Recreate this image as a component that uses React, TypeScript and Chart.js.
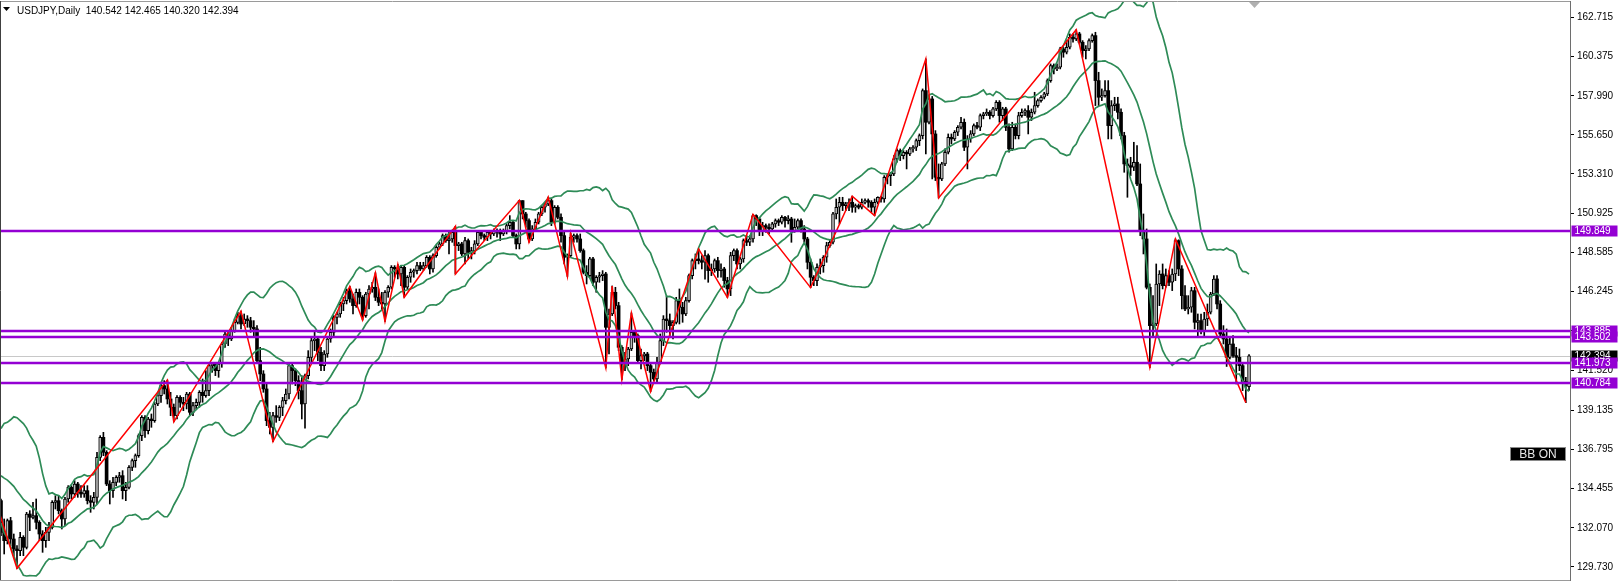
import React, { useEffect, useRef } from 'react';
import { Chart, registerables } from 'chart.js';

Chart.register(...registerables);

// ---- data (USDJPY daily, index 0 = first visible bar) ----
const symbolTitle = 'USDJPY,Daily';
const lastBar = [140.542, 142.465, 140.320, 142.394];

// closes of the 20 bars before the first visible one (needed by the Bollinger band)
const priorCloses = [134.2, 134.2, 134.9, 134.9, 134.7, 136.4, 136.2, 136.2, 136.1, 136.7, 135.9, 135.9, 137.2, 137.3, 136.1, 134.9, 133.2, 134.2, 133.4, 133.7];

const opens = [
  133.7, 131.8, 131.3, 132.5, 131.4, 130.8, 130.7, 131.5, 130.9, 132.9,
  132.7, 132.8, 132.4, 131.7, 131.3, 131.8, 132.1, 133.6, 133.7, 133.1,
  132.6, 133.8, 134.5, 134.1, 134.7, 134.2, 134.1, 134.3, 133.7, 133.6,
  133.9, 136.3, 137.5, 136.6, 134.7, 134.3, 134.8, 135.1, 135.2, 134.3,
  134.5, 135.7, 136.1, 136.4, 137.6, 138.7, 137.9, 138.6, 138.5, 139.5,
  140.0, 140.6, 140.4, 139.8, 139.3, 138.8, 139.9, 139.6, 139.5, 140.1,
  139.0, 139.4, 139.6, 140.2, 140.0, 140.3, 141.8, 141.9, 141.5, 141.9,
  143.1, 143.7, 143.4, 143.9, 144.4, 144.8, 144.3, 144.6, 144.5, 144.1,
  144.0, 142.1, 141.3, 140.4, 138.5, 138.1, 138.8, 138.7, 139.3, 139.7,
  140.1, 141.8, 141.5, 140.9, 140.3, 139.5, 141.2, 142.3, 143.3, 143.4,
  142.6, 141.8, 142.5, 143.4, 143.8, 144.7, 144.9, 145.5, 145.7, 146.3,
  145.8, 145.4, 146.2, 145.9, 144.8, 146.1, 146.4, 146.5, 145.9, 145.6,
  145.5, 146.2, 146.5, 147.7, 147.6, 147.3, 147.7, 146.5, 147.1, 147.4,
  147.5, 147.8, 147.6, 147.8, 148.3, 147.6, 148.4, 148.9, 149.1, 149.6,
  149.3, 149.4, 149.8, 149.0, 149.1, 148.5, 149.3, 148.6, 148.7, 149.1,
  149.8, 149.6, 149.5, 149.8, 149.7, 149.9, 149.8, 149.7, 149.9, 150.2,
  150.4, 149.6, 149.1, 151.7, 150.9, 150.5, 149.4, 150.0, 150.4, 150.9,
  151.3, 151.5, 151.7, 150.4, 151.3, 150.7, 149.6, 148.3, 148.4, 149.5,
  149.6, 149.4, 148.7, 147.4, 147.2, 148.2, 146.8, 147.1, 147.2, 147.3,
  144.1, 144.9, 146.2, 145.4, 142.9, 141.9, 142.2, 142.8, 143.8, 143.6,
  142.1, 142.4, 142.5, 141.8, 141.4, 141.0, 142.0, 143.3, 144.6, 144.5,
  144.2, 144.4, 145.7, 145.3, 144.9, 145.7, 147.2, 148.1, 148.2, 148.1,
  148.0, 148.4, 147.5, 147.6, 148.1, 147.5, 147.6, 146.9, 146.4, 148.4,
  148.7, 147.9, 148.2, 149.3, 149.2, 149.4, 150.8, 150.6, 149.9, 150.2,
  150.1, 150.0, 150.3, 150.5, 150.4, 150.7, 150.5, 150.6, 149.9, 150.1,
  150.5, 150.0, 149.4, 148.0, 147.1, 146.9, 147.7, 147.8, 148.3, 149.0,
  149.2, 150.9, 151.3, 151.6, 151.4, 151.5, 151.6, 151.3, 151.4, 151.3,
  151.6, 151.7, 151.6, 151.3, 151.6, 151.9, 151.8, 153.1, 153.2, 153.3,
  154.2, 154.7, 154.4, 154.6, 154.5, 154.8, 154.9, 155.3, 155.6, 158.3,
  156.4, 157.8, 155.7, 153.1, 153.0, 153.9, 154.6, 155.5, 155.4, 155.8,
  156.1, 156.4, 154.9, 155.4, 155.7, 156.2, 156.1, 156.8, 156.9, 157.0,
  156.8, 157.2, 157.6, 156.8, 157.2, 156.1, 154.8, 156.1, 155.6, 156.8,
  157.0, 157.1, 156.7, 157.0, 157.4, 157.7, 157.9, 158.1, 158.9, 159.8,
  159.6, 159.7, 160.8, 160.6, 160.9, 161.5, 161.4, 161.7, 161.2, 160.7,
  160.8, 161.3, 161.6, 158.9, 157.9, 158.0, 158.3, 156.2, 157.4, 157.5,
  157.0, 155.6, 153.9, 153.8, 153.7, 154.0, 152.7, 149.9, 149.4, 146.5,
  144.2, 144.3, 146.7, 147.3, 146.6, 147.2, 146.8, 147.3, 149.3, 147.6,
  146.0, 145.2, 145.3, 146.3, 144.4, 144.5, 143.9, 144.6, 145.0, 146.1,
  147.0, 145.5, 143.7, 143.4, 142.3, 143.1, 142.4, 142.3, 141.8, 140.85,
  140.542,
];

const highs = [
  133.8, 132.6, 132.6, 132.7, 131.7, 131.0, 131.8, 131.6, 133.0, 133.1,
  133.6, 133.8, 132.5, 131.9, 132.1, 132.4, 133.7, 134.0, 134.0, 133.2,
  133.9, 134.6, 134.6, 134.9, 134.8, 134.6, 134.6, 134.6, 134.0, 134.2,
  136.6, 137.6, 137.8, 136.7, 134.9, 135.1, 135.2, 135.4, 135.5, 134.8,
  135.8, 136.2, 136.5, 137.7, 138.8, 138.8, 138.7, 138.9, 139.6, 140.2,
  140.7, 140.9, 140.93, 140.2, 139.5, 140.0, 140.0, 139.9, 140.2, 140.2,
  139.6, 139.8, 140.3, 141.0, 141.5, 141.9, 142.0, 142.0, 142.0, 143.2,
  143.9, 143.8, 144.1, 144.6, 145.0, 145.07, 144.9, 144.8, 144.7, 144.5,
  144.2, 142.9, 141.5, 140.8, 139.0, 139.0, 139.4, 139.4, 139.9, 140.4,
  142.0, 141.9, 141.6, 141.2, 141.2, 141.3, 142.7, 143.5, 143.9, 143.5,
  142.9, 142.7, 143.5, 144.0, 144.8, 145.0, 145.6, 145.9, 146.4, 146.56,
  146.1, 146.4, 146.4, 146.0, 146.2, 146.6, 146.8, 147.37, 146.4, 146.2,
  146.3, 146.6, 147.8, 147.8, 147.87, 147.8, 147.8, 147.2, 147.6, 147.6,
  148.0, 148.0, 148.0, 148.4, 148.4, 148.5, 149.0, 149.2, 149.7, 149.7,
  149.8, 149.9, 150.16, 149.2, 149.2, 149.5, 149.4, 148.9, 149.3, 149.85,
  149.9, 149.7, 149.9, 149.9, 150.0, 150.0, 150.0, 150.0, 150.3, 150.8,
  150.5, 149.7, 151.72, 151.7, 151.0, 150.6, 150.2, 150.6, 151.0, 151.4,
  151.6, 151.91, 151.8, 151.4, 151.4, 150.9, 149.8, 148.5, 149.75, 149.7,
  149.7, 149.7, 148.8, 147.8, 148.3, 148.3, 147.2, 147.4, 147.5, 147.4,
  145.2, 146.58, 146.5, 145.6, 143.0, 142.6, 142.9, 144.96, 143.9, 143.7,
  142.8, 142.6, 142.6, 141.9, 141.6, 142.3, 143.7, 144.8, 145.98, 144.9,
  144.5, 145.9, 146.4, 145.6, 145.9, 147.3, 148.2, 148.5, 148.8, 148.4,
  148.7, 148.5, 147.9, 148.2, 148.3, 147.9, 147.7, 147.1, 148.6, 148.8,
  148.8, 148.3, 149.4, 149.6, 149.6, 150.88, 150.85, 150.7, 150.4, 150.3,
  150.3, 150.4, 150.6, 150.6, 150.8, 150.75, 150.8, 150.7, 150.6, 150.6,
  150.6, 150.2, 149.5, 148.2, 147.2, 147.9, 148.2, 148.4, 149.2, 149.3,
  151.0, 151.8, 151.9, 151.9, 151.6, 151.8, 151.97, 151.5, 151.5, 151.8,
  151.8, 151.8, 151.7, 151.8, 151.93, 151.95, 153.2, 153.3, 153.4, 154.4,
  154.8, 154.8, 154.7, 154.7, 154.9, 155.0, 155.4, 155.7, 158.4, 160.2,
  157.9, 157.95, 155.9, 153.9, 154.0, 154.8, 155.7, 155.7, 155.9, 156.2,
  156.7, 156.6, 155.6, 155.9, 156.3, 156.4, 156.9, 157.0, 157.2, 157.1,
  157.3, 157.7, 157.7, 157.3, 157.3, 156.3, 156.4, 156.3, 157.0, 157.2,
  157.2, 157.4, 157.2, 158.2, 157.8, 158.0, 158.2, 159.0, 159.9, 159.9,
  159.9, 160.9, 160.9, 161.3, 161.7, 161.7, 161.95, 161.8, 161.3, 161.0,
  161.4, 161.7, 161.8, 159.4, 158.4, 158.9, 158.9, 157.7, 157.9, 157.9,
  157.2, 155.8, 154.2, 154.3, 155.2, 155.0, 153.9, 150.9, 150.0, 146.7,
  146.0, 147.9, 147.5, 147.9, 147.6, 147.5, 147.6, 149.4, 149.35, 147.8,
  146.6, 146.0, 146.5, 146.5, 144.9, 144.9, 145.0, 145.5, 146.2, 147.2,
  147.2, 145.7, 144.2, 144.0, 143.5, 143.6, 142.9, 142.8, 141.9, 141.1,
  142.465,
];

const lows = [
  131.6, 130.5, 131.1, 131.0, 130.4, 129.64, 130.4, 130.4, 130.8, 131.9,
  132.6, 132.0, 131.3, 130.6, 130.9, 131.3, 132.0, 133.2, 132.9, 132.0,
  132.2, 133.6, 133.8, 133.9, 133.9, 133.9, 133.9, 133.5, 133.0, 133.2,
  133.5, 136.1, 136.4, 134.6, 133.5, 133.9, 134.6, 134.8, 133.8, 133.7,
  134.4, 135.5, 135.7, 136.3, 137.3, 137.5, 137.7, 138.1, 138.4, 139.4,
  139.6, 140.1, 139.5, 138.8, 138.43, 138.6, 139.3, 139.1, 139.2, 138.8,
  138.8, 139.2, 139.3, 139.6, 139.9, 140.0, 141.4, 141.2, 141.1, 141.7,
  142.9, 143.0, 143.3, 143.8, 144.3, 144.0, 144.2, 144.1, 143.8, 143.5,
  142.0, 140.9, 140.2, 138.2, 137.7, 137.24, 138.4, 138.5, 138.8, 139.5,
  139.8, 140.7, 140.6, 139.8, 138.6, 138.05, 141.0, 142.0, 142.7, 142.1,
  141.5, 141.5, 142.3, 143.2, 143.6, 144.3, 144.7, 145.1, 145.5, 145.6,
  144.9, 145.3, 145.5, 144.54, 144.7, 145.2, 146.2, 145.7, 145.4, 145.1,
  144.45, 145.9, 146.4, 147.1, 147.0, 146.6, 145.9, 146.4, 146.8, 147.1,
  147.3, 147.5, 147.5, 147.7, 147.3, 147.4, 148.3, 148.8, 149.0, 149.2,
  148.5, 149.2, 147.3, 148.7, 148.4, 147.9, 148.2, 148.2, 148.5, 149.0,
  149.4, 149.3, 149.3, 149.4, 149.6, 149.5, 149.3, 149.6, 149.7, 150.0,
  149.5, 148.8, 148.8, 150.6, 150.1, 149.2, 149.3, 149.9, 150.3, 150.8,
  151.0, 151.4, 150.2, 150.3, 150.6, 149.2, 147.9, 147.15, 148.3, 149.2,
  149.2, 148.6, 147.3, 146.7, 147.1, 146.6, 146.2, 146.8, 146.9, 141.66,
  142.5, 144.8, 145.2, 142.7, 140.95, 141.5, 141.8, 142.7, 143.2, 142.0,
  141.6, 142.1, 141.5, 140.25, 140.9, 140.8, 141.9, 143.0, 143.8, 143.6,
  143.4, 144.3, 144.3, 144.4, 144.8, 145.6, 147.0, 147.6, 147.9, 147.6,
  146.98, 146.8, 147.2, 147.4, 147.1, 147.1, 146.5, 145.9, 146.0, 148.1,
  147.6, 147.6, 148.0, 149.0, 149.0, 149.2, 150.2, 149.6, 149.6, 149.8,
  149.7, 149.9, 150.1, 150.2, 150.3, 150.1, 150.3, 149.2, 149.8, 150.0,
  149.8, 149.2, 147.6, 146.48, 146.6, 146.6, 147.3, 147.4, 148.0, 148.9,
  149.1, 150.6, 150.3, 151.1, 151.1, 151.1, 151.0, 151.0, 151.2, 151.2,
  151.5, 151.3, 151.0, 150.8, 151.5, 151.6, 151.6, 152.7, 152.6, 153.2,
  154.0, 154.1, 154.2, 153.6, 154.4, 154.6, 154.7, 155.0, 155.4, 154.5,
  156.3, 153.0, 152.9, 151.86, 152.9, 153.8, 154.5, 155.1, 155.3, 155.6,
  156.0, 154.7, 153.6, 155.2, 155.6, 156.0, 155.9, 156.6, 156.8, 156.6,
  156.7, 157.1, 156.4, 156.5, 155.9, 154.6, 154.7, 155.4, 155.4, 156.7,
  156.8, 155.7, 156.5, 156.9, 157.3, 157.6, 157.8, 158.0, 158.8, 159.3,
  159.5, 159.6, 160.3, 160.5, 160.8, 161.2, 161.3, 161.1, 160.3, 160.2,
  160.7, 161.2, 157.4, 157.4, 157.7, 157.9, 155.4, 155.4, 157.1, 156.6,
  155.4, 153.4, 151.9, 153.2, 153.5, 152.6, 149.6, 148.5, 146.4, 141.68,
  143.6, 144.2, 145.4, 146.4, 146.5, 146.6, 146.3, 146.9, 147.2, 145.2,
  145.1, 144.9, 145.0, 144.0, 143.5, 143.7, 143.6, 144.2, 144.9, 146.0,
  145.2, 143.5, 143.1, 141.75, 142.2, 142.3, 140.7, 141.5, 140.3, 139.58,
  140.32,
];

const closes = [
  131.8, 131.3, 132.5, 131.4, 130.8, 130.7, 131.5, 130.9, 132.9, 132.7,
  132.8, 132.4, 131.7, 131.3, 131.8, 132.1, 133.6, 133.7, 133.1, 132.6,
  133.8, 134.5, 134.1, 134.7, 134.2, 134.1, 134.3, 133.7, 133.6, 133.9,
  136.3, 137.5, 136.6, 134.7, 134.3, 134.8, 135.1, 135.2, 134.3, 134.5,
  135.7, 136.1, 136.4, 137.6, 138.7, 137.9, 138.6, 138.5, 139.5, 140.0,
  140.6, 140.4, 139.8, 139.3, 138.8, 139.9, 139.6, 139.5, 140.1, 139.0,
  139.4, 139.6, 140.2, 140.0, 140.3, 141.8, 141.9, 141.5, 141.9, 143.1,
  143.7, 143.4, 143.9, 144.4, 144.8, 144.3, 144.6, 144.5, 144.1, 144.0,
  142.1, 141.3, 140.4, 138.5, 138.1, 138.8, 138.7, 139.3, 139.7, 140.1,
  141.8, 141.5, 140.9, 140.3, 139.5, 141.2, 142.3, 143.3, 143.4, 142.6,
  141.8, 142.5, 143.4, 143.8, 144.7, 144.9, 145.5, 145.7, 146.3, 145.8,
  145.4, 146.2, 145.9, 144.8, 146.1, 146.4, 146.5, 145.9, 145.6, 145.5,
  146.2, 146.5, 147.7, 147.6, 147.3, 147.7, 146.5, 147.1, 147.4, 147.5,
  147.8, 147.6, 147.8, 148.3, 147.6, 148.4, 148.9, 149.1, 149.6, 149.3,
  149.4, 149.8, 149.0, 149.1, 148.5, 149.3, 148.6, 148.7, 149.1, 149.8,
  149.6, 149.5, 149.8, 149.7, 149.9, 149.8, 149.7, 149.9, 150.2, 150.4,
  149.6, 149.1, 151.7, 150.9, 150.5, 149.4, 150.0, 150.4, 150.9, 151.3,
  151.5, 151.7, 150.4, 151.3, 150.7, 149.6, 148.3, 148.4, 149.5, 149.6,
  149.4, 148.7, 147.4, 147.2, 148.2, 146.8, 147.1, 147.2, 147.3, 144.1,
  144.9, 146.2, 145.4, 142.9, 141.9, 142.2, 142.8, 143.8, 143.6, 142.1,
  142.4, 142.5, 141.8, 141.4, 141.0, 142.0, 143.3, 144.6, 144.5, 144.2,
  144.4, 145.7, 145.3, 144.9, 145.7, 147.2, 148.1, 148.2, 148.1, 148.0,
  148.4, 147.5, 147.6, 148.1, 147.5, 147.6, 146.9, 146.4, 148.4, 148.7,
  147.9, 148.2, 149.3, 149.2, 149.4, 150.8, 150.6, 149.9, 150.2, 150.1,
  150.0, 150.3, 150.5, 150.4, 150.7, 150.5, 150.6, 149.9, 150.1, 150.5,
  150.0, 149.4, 148.0, 147.1, 146.9, 147.7, 147.8, 148.3, 149.0, 149.2,
  150.9, 151.3, 151.6, 151.4, 151.5, 151.6, 151.3, 151.4, 151.3, 151.6,
  151.7, 151.6, 151.3, 151.6, 151.9, 151.8, 153.1, 153.2, 153.3, 154.2,
  154.7, 154.4, 154.6, 154.5, 154.8, 154.9, 155.3, 155.6, 158.3, 156.4,
  157.8, 155.7, 153.1, 153.0, 153.9, 154.6, 155.5, 155.4, 155.8, 156.1,
  156.4, 154.9, 155.4, 155.7, 156.2, 156.1, 156.8, 156.9, 157.0, 156.8,
  157.2, 157.6, 156.8, 157.2, 156.1, 154.8, 156.1, 155.6, 156.8, 157.0,
  157.1, 156.7, 157.0, 157.4, 157.7, 157.9, 158.1, 158.9, 159.8, 159.6,
  159.7, 160.8, 160.6, 160.9, 161.5, 161.4, 161.7, 161.2, 160.7, 160.8,
  161.3, 161.6, 158.9, 157.9, 158.0, 158.3, 156.2, 157.4, 157.5, 157.0,
  155.6, 153.9, 153.8, 153.7, 154.0, 152.7, 149.9, 149.4, 146.5, 144.2,
  144.3, 146.7, 147.3, 146.6, 147.2, 146.8, 147.3, 149.3, 147.6, 146.0,
  145.2, 145.3, 146.3, 144.4, 144.5, 143.9, 144.6, 145.0, 146.1, 147.0,
  145.5, 143.7, 143.4, 142.3, 143.1, 142.4, 142.3, 141.8, 140.85, 140.6,
  142.394,
];

// ZigZag swing points: bar index and price
const zigzagIndex = [-1, 5, 52, 54, 75, 85, 109, 113, 117, 120, 124, 126, 142, 142, 162, 165, 171, 177, 178, 189, 191, 194, 197, 203, 218, 227, 235, 253, 266, 273, 289, 293, 336, 359, 367, 389];
const zigzagPrice = [133.26, 129.64, 140.93, 138.43, 145.07, 137.24, 146.56, 144.54, 147.37, 144.45, 147.87, 145.9, 150.16, 147.3, 151.72, 149.2, 151.91, 147.15, 149.75, 141.66, 146.58, 140.95, 144.96, 140.25, 148.8, 145.9, 150.88, 146.48, 151.97, 150.8, 160.2, 151.86, 161.95, 141.68, 149.4, 139.58];

// horizontal levels
const levelPrices = [149.849, 143.885, 143.502, 141.973, 140.784];
const currentPrice = 142.394;

// price axis tick labels
const yTickValues = [162.715, 160.375, 157.990, 155.650, 153.310, 150.925, 148.585, 146.245, 143.880, 141.520, 139.135, 136.795, 134.455, 132.070, 129.730];

// ---- view settings ----
const BB_PERIOD = 20;
const BB_DEV = 2;
const X_MIN = -0.31;
const X_MAX = 490.3;
const Y_MIN = 128.94;
const Y_MAX = 163.675;
const FONT = '"Liberation Sans", Arial, sans-serif';
const LEVEL_COLOR = '#9400D3';
const BB_COLOR = '#2e8b57';

function bollinger() {
  const all = [...priorCloses, ...closes];
  const off = priorCloses.length;
  const up: { x: number; y: number }[] = [];
  const mid: { x: number; y: number }[] = [];
  const lo: { x: number; y: number }[] = [];
  for (let i = 0; i < closes.length; i++) {
    const end = off + i;
    const win = all.slice(end - BB_PERIOD + 1, end + 1);
    const m = win.reduce((a, b) => a + b, 0) / win.length;
    const sd = Math.sqrt(win.reduce((a, b) => a + (b - m) * (b - m), 0) / win.length);
    up.push({ x: i, y: m + BB_DEV * sd });
    mid.push({ x: i, y: m });
    lo.push({ x: i, y: m - BB_DEV * sd });
  }
  return { up, mid, lo };
}

const overlayPlugin = {
  id: 'mtOverlay',
  beforeDatasetsDraw(chart: any) {
    const { ctx, chartArea: a, scales } = chart;
    const y = scales.y;
    ctx.save();
    const yy = Math.round(y.getPixelForValue(currentPrice)) + 0.5;
    ctx.strokeStyle = '#c8c8c8';
    ctx.lineWidth = 1;
    ctx.beginPath();
    ctx.moveTo(a.left, yy);
    ctx.lineTo(a.right, yy);
    ctx.stroke();
    ctx.restore();
  },
  afterDatasetsDraw(chart: any) {
    const { ctx, chartArea: a, scales } = chart;
    const y = scales.y;
    ctx.save();
    ctx.strokeStyle = LEVEL_COLOR;
    ctx.lineWidth = 2.4;
    for (const p of levelPrices) {
      const yy = Math.round(y.getPixelForValue(p));
      ctx.beginPath();
      ctx.moveTo(a.left, yy);
      ctx.lineTo(a.right, yy);
      ctx.stroke();
    }
    ctx.restore();
  },
  afterDraw(chart: any) {
    const { ctx, chartArea: a, scales } = chart;
    const y = scales.y;
    ctx.save();
    // frame
    ctx.strokeStyle = '#9a9a9a';
    ctx.lineWidth = 1;
    ctx.beginPath();
    ctx.moveTo(a.left, a.top + 0.5);
    ctx.lineTo(a.right, a.top + 0.5);
    ctx.moveTo(a.left, a.bottom + 0.5);
    ctx.lineTo(a.right, a.bottom + 0.5);
    ctx.stroke();
    ctx.strokeStyle = '#404040';
    ctx.beginPath();
    ctx.moveTo(a.left + 0.5, a.top);
    ctx.lineTo(a.left + 0.5, a.bottom);
    ctx.stroke();

    // shift marker triangle
    ctx.fillStyle = '#b0b0b0';
    ctx.beginPath();
    ctx.moveTo(1249, a.top + 1);
    ctx.lineTo(1260, a.top + 1);
    ctx.lineTo(1254.5, a.top + 7);
    ctx.closePath();
    ctx.fill();

    // price labels on the axis
    ctx.font = '10px ' + FONT;
    ctx.textBaseline = 'middle';
    ctx.textAlign = 'left';
    const boxX = a.right + 1.5;
    const boxW = 46;
    const boxH = 11;
    const drawBox = (p: number, bg: string) => {
      const yy = Math.round(y.getPixelForValue(p));
      ctx.fillStyle = bg;
      ctx.fillRect(boxX, yy - boxH / 2, boxW, boxH);
      ctx.fillStyle = '#ffffff';
      ctx.fillText(p.toFixed(3), boxX + 3, yy + 0.5);
    };
    drawBox(currentPrice, '#000000');
    for (const p of levelPrices) drawBox(p, LEVEL_COLOR);

    // header
    ctx.fillStyle = '#000';
    ctx.beginPath();
    ctx.moveTo(3, 7);
    ctx.lineTo(10, 7);
    ctx.lineTo(6.5, 11);
    ctx.closePath();
    ctx.fill();
    ctx.textBaseline = 'alphabetic';
    ctx.font = '10px ' + FONT;
    ctx.fillText(symbolTitle + '  ' + lastBar.map((v) => v.toFixed(3)).join(' '), 17, 14);

    // BB ON button
    ctx.fillStyle = '#000';
    ctx.fillRect(1510, 447, 56, 14);
    ctx.strokeStyle = '#8a8a8a';
    ctx.strokeRect(1510.5, 447.5, 55, 13);
    ctx.fillStyle = '#e6e6e6';
    ctx.font = '12px ' + FONT;
    ctx.textAlign = 'center';
    ctx.textBaseline = 'middle';
    ctx.fillText('BB ON', 1538, 454.5);
    ctx.restore();
  },
};

export default function App() {
  const ref = useRef<HTMLCanvasElement | null>(null);

  useEffect(() => {
    if (!ref.current) return;
    const idx = closes.map((_, i) => i);
    const bb = bollinger();
    const bull = idx.map((i) => closes[i] >= opens[i]);

    const chart = new Chart(ref.current, {
      type: 'bar',
      data: {
        datasets: [
          {
            type: 'bar',
            label: 'wicks',
            data: idx.map((i) => ({ x: i, y: [lows[i], highs[i]] })) as any,
            backgroundColor: '#000000',
            barThickness: 1,
            grouped: false,
            order: 10,
          } as any,
          {
            type: 'bar',
            label: 'bodies',
            data: idx.map((i) => ({ x: i, y: [opens[i], closes[i]] })) as any,
            backgroundColor: idx.map((i) => (bull[i] ? '#b8b8b8' : '#000000')),
            borderColor: '#000000',
            borderWidth: idx.map((i) => (bull[i] ? 1 : 0)),
            borderSkipped: false,
            barThickness: 3,
            minBarLength: 1,
            grouped: false,
            order: 9,
          } as any,
          {
            type: 'line',
            label: 'BB upper',
            data: bb.up,
            borderColor: BB_COLOR,
            borderWidth: 1.7,
            pointRadius: 0,
            tension: 0,
            order: 5,
          },
          {
            type: 'line',
            label: 'BB middle',
            data: bb.mid,
            borderColor: BB_COLOR,
            borderWidth: 1.7,
            pointRadius: 0,
            tension: 0,
            order: 5,
          },
          {
            type: 'line',
            label: 'BB lower',
            data: bb.lo,
            borderColor: BB_COLOR,
            borderWidth: 1.7,
            pointRadius: 0,
            tension: 0,
            order: 5,
          },
          {
            type: 'line',
            label: 'ZigZag',
            data: zigzagIndex.map((x, k) => ({ x, y: zigzagPrice[k] })),
            borderColor: '#ff0000',
            borderWidth: 1.5,
            pointRadius: 0,
            tension: 0,
            order: 3,
          },
        ],
      },
      options: {
        animation: false,
        responsive: false,
        devicePixelRatio: 1,
        events: [],
        layout: { padding: { left: 0, top: 1, right: 0, bottom: 2 } },
        plugins: {
          legend: { display: false },
          tooltip: { enabled: false },
        },
        scales: {
          x: {
            type: 'linear',
            min: X_MIN,
            max: X_MAX,
            offset: false,
            display: false,
          },
          y: {
            position: 'right',
            min: Y_MIN,
            max: Y_MAX,
            beginAtZero: false,
            afterBuildTicks: (axis: any) => {
              axis.ticks = yTickValues.map((v) => ({ value: v }));
            },
            afterFit: (axis: any) => {
              axis.width = 52;
              axis.paddingTop = 0;
              axis.paddingBottom = 0;
            },
            ticks: {
              autoSkip: false,
              padding: 3,
              color: '#000000',
              font: { family: FONT, size: 10 },
              callback: (v: any) => Number(v).toFixed(3),
            },
            grid: {
              display: true,
              drawOnChartArea: false,
              drawTicks: true,
              tickLength: 4,
              color: '#000000',
            },
            border: { display: true, color: '#6e6e6e', width: 1 },
          },
        },
      } as any,
      plugins: [overlayPlugin],
    });
    return () => chart.destroy();
  }, []);

  return (
    <div style={{ position: 'absolute', left: 0, top: 0, width: 1622, height: 582, background: '#ffffff' }}>
      <canvas ref={ref} width={1622} height={582} style={{ display: 'block', width: 1622, height: 582 }} />
    </div>
  );
}
